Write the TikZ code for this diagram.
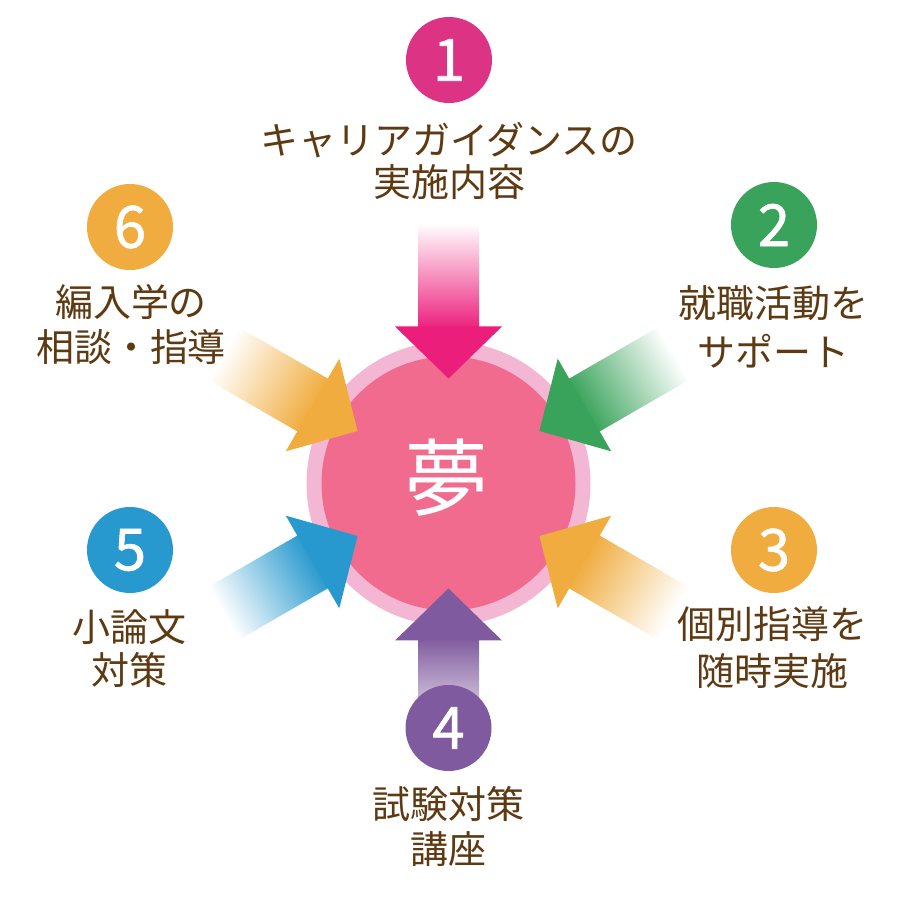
\documentclass[tikz,border=0pt]{standalone}
\usepackage{fontspec}
\newfontfamily\cjk{Noto Sans CJK JP}
\newfontfamily\cjkdig[FakeBold=1.2]{Noto Sans CJK JP}
\definecolor{ringpink}{HTML}{F4B7D3}
\definecolor{innerpink}{HTML}{F06B8E}
\definecolor{txtbrown}{HTML}{5E3A12}
\definecolor{cpink}{HTML}{EC1E7B}
\definecolor{cpinkc}{HTML}{DD3384}
\definecolor{cgreen}{HTML}{3AA35B}
\definecolor{corange}{HTML}{F0AC3E}
\definecolor{cblue}{HTML}{2799CE}
\definecolor{cpurple}{HTML}{7F5A9E}
\tikzset{
  numcirc/.style={circle, fill=#1, minimum size=86pt, inner sep=0pt, text=white,
    font=\cjkdig\fontsize{58}{58}\selectfont},
  lbl/.style={text=txtbrown, font=\cjk\fontsize{38}{45}\selectfont, inner sep=0pt},
}
% #1 angle of tail direction, #2 colour
\newcommand{\bigarrow}[2]{%
  \begin{scope}[transform canvas={shift={(448.5,416.5)}, rotate=#1}]
    \shade[left color=#2, right color=white] (154,-30.5) rectangle (260,30.5);
    \fill[#2] (105,0) -- (157,53.5) -- (157,-53.5) -- cycle;
  \end{scope}}
\begin{document}
\begin{tikzpicture}[x=1pt,y=1pt]
  \useasboundingbox (0,0) rectangle (900,900);
  \fill[white] (0,0) rectangle (900,900);
  % centre
  \node[circle, fill=ringpink, minimum size=284pt, inner sep=0pt] (ring) at (448.5,416.5) {};
  \node[circle, fill=innerpink, minimum size=254pt, inner sep=0pt] (core) at (448.5,416.5) {};
  \node[text=white, font=\cjk\fontsize{84}{84}\selectfont, inner sep=0pt] (yume) at (446,422) {夢};
  % arrows
  \bigarrow{90}{cpink}
  \bigarrow{30}{cgreen}
  \bigarrow{-30}{corange}
  \bigarrow{-90}{cpurple}
  \bigarrow{210}{cblue}
  \bigarrow{150}{corange}
  % number circles
  \node[numcirc=cpinkc] (n1) at (449,840) {1};
  \node[numcirc=cgreen] (n2) at (774,675) {2};
  \node[numcirc=corange] (n3) at (774,350) {3};
  \node[numcirc=cpurple] (n4) at (448.5,172) {4};
  \node[numcirc=cblue] (n5) at (130,350) {5};
  \node[numcirc=corange] (n6) at (130,673) {6};
  % labels
  \node[lbl] (t1a) at (449,760) {キャリアガイダンスの};
  \node[lbl] (t1b) at (449,718) {実施内容};
  \node[lbl] (t2a) at (773,597) {就職活動を};
  \node[lbl] (t2b) at (773,549) {サポート};
  \node[lbl] (t3a) at (772,276) {個別指導を};
  \node[lbl] (t3b) at (772,229) {随時実施};
  \node[lbl] (t4a) at (448.5,96) {試験対策};
  \node[lbl] (t4b) at (448.5,51) {講座};
  \node[lbl] (t5a) at (129,273) {小論文};
  \node[lbl] (t5b) at (129,230) {対策};
  \node[lbl] (t6a) at (131,598) {編入学の};
  \node[lbl] (t6b) at (131,553) {相談・指導};
\end{tikzpicture}
\end{document}
